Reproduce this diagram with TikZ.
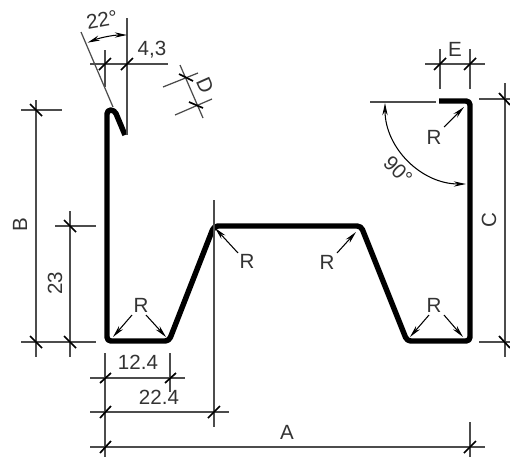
\documentclass[tikz,border=0pt]{standalone}
\usepackage{fontspec}
\setmainfont{Liberation Sans}
\usetikzlibrary{arrows.meta}
\tikzset{
	profile/.style = {line width = 3.1pt, line join = round, rounded corners = 2.2pt},
	dimline/.style = {line width = .7pt, draw = black!70},
	tickmark/.style = {line width = .95pt},
	leader/.style = {line width = .6pt, -{Stealth[length = 7pt, width = 3pt]}},
	bothends/.style = {line width = .6pt, {Stealth[length = 7pt, width = 3pt]}-{Stealth[length = 7pt, width = 3pt]}},
	lbl/.style = {inner sep = 0pt, text = black!80, font = \fontsize{11.7}{13}\selectfont}
}
\begin{document}
\begin{tikzpicture}[x = .02cm, y = -.02cm]
	\useasboundingbox (0,0) rectangle (510,457);
	% profile
	\draw [profile] (125,135) -- (114.5,110) -- (107,110) -- (107,341) -- (169,341) -- (214,226) -- (361,226) -- (407,341) -- (470,341) -- (470,101) -- (439,101);
	% dimension B
	\draw [dimline] (36,100) -- (36,357);
	\draw [dimline] (21,110) -- (62,110);
	\draw [dimline] (21,342) -- (96,342);
	\draw [tickmark] (30,104) -- (42,116);
	\draw [tickmark] (30,336) -- (42,348);
	\node [lbl, rotate = 90] (labelB) at (20,225) {B};
	% dimension 23
	\draw [dimline] (70,211) -- (70,357);
	\draw [dimline] (55,226) -- (96,226);
	\draw [tickmark] (64,220) -- (76,232);
	\draw [tickmark] (64,336) -- (76,348);
	\node [lbl, rotate = 90] (label23) at (55,283) {23};
	% dimensions 12.4, 22.4 and A
	\draw [dimline] (105,353) -- (105,457);
	\draw [dimline] (170,353) -- (170,392);
	\draw [dimline] (214,200) -- (214,427);
	\draw [dimline] (470,422) -- (470,457);
	\draw [dimline] (90,378) -- (185,378);
	\draw [dimline] (90,412) -- (229,412);
	\draw [dimline] (90,447) -- (485,447);
	\draw [tickmark] (100,383) -- (111,373);
	\draw [tickmark] (165,383) -- (176,373);
	\draw [tickmark] (100,418) -- (111,406);
	\draw [tickmark] (208,418) -- (220,406);
	\draw [tickmark] (100,453) -- (111,441);
	\draw [tickmark] (464,453) -- (476,441);
	\node [lbl] (label124) at (138,362) {12.4};
	\node [lbl] (label224) at (159,397) {22.4};
	\node [lbl] (labelA) at (287,432) {A};
	% dimension C
	\draw [dimline] (505,83) -- (505,357);
	\draw [dimline] (479,99) -- (510,99);
	\draw [dimline] (479,342) -- (510,342);
	\draw [tickmark] (499,93) -- (510,105);
	\draw [tickmark] (499,336) -- (510,348);
	\node [lbl, rotate = 90] (labelC) at (489,220) {C};
	% dimension E
	\draw [dimline] (425,64) -- (485,64);
	\draw [dimline] (440,49) -- (440,89);
	\draw [dimline] (470,49) -- (470,89);
	\draw [tickmark] (434,70) -- (446,58);
	\draw [tickmark] (464,70) -- (476,58);
	\node [lbl] (labelE) at (455,49) {E};
	% angle 90
	\draw [dimline] (370,102) -- (436,102);
	\draw [bothends] (385,103) arc [start angle = 180, end angle = 90, radius = 81];
	\node [lbl, rotate = -45] (label90) at (398,170) {90°};
	% dimension 4,3 and angle 22
	\draw [dimline] (127,18) -- (127,135);
	\draw [dimline] (81,32) -- (113,107);
	\draw [dimline] (105,50) -- (105,87);
	\draw [dimline] (90,64) -- (168,64);
	\draw [tickmark] (99,70) -- (111,58);
	\draw [tickmark] (121,70) -- (133,58);
	\draw [bothends] (127,35) arc [start angle = -90, end angle = -112, radius = 105];
	\node [lbl, rotate = 10] (label22) at (102,20) {22°};
	\node [lbl] (label43) at (152,50) {4,3};
	% dimension D
	\draw [dimline] (180,65) -- (203,118);
	\draw [dimline] (163,87) -- (198,73);
	\draw [dimline] (175,115) -- (212,99);
	\draw [tickmark] (179,74) -- (193,81);
	\draw [tickmark] (189,102) -- (203,108);
	\node [lbl, rotate = -66] (labelD) at (205,85) {D};
	% radius leaders
	\draw [leader] (444,127) -- (464,107);
	\node [lbl] (labelRa) at (434,137) {R};
	\draw [leader] (132,315) -- (113,337);
	\draw [leader] (146,315) -- (166,337);
	\node [lbl] (labelRb) at (141,305) {R};
	\draw [leader] (238,253) -- (215,228);
	\node [lbl] (labelRc) at (247,261) {R};
	\draw [leader] (337,253) -- (356,232);
	\node [lbl] (labelRd) at (327,262) {R};
	\draw [leader] (429,315) -- (410,337);
	\draw [leader] (444,315) -- (463,337);
	\node [lbl] (labelRe) at (434,305) {R};
\end{tikzpicture}
\end{document}
